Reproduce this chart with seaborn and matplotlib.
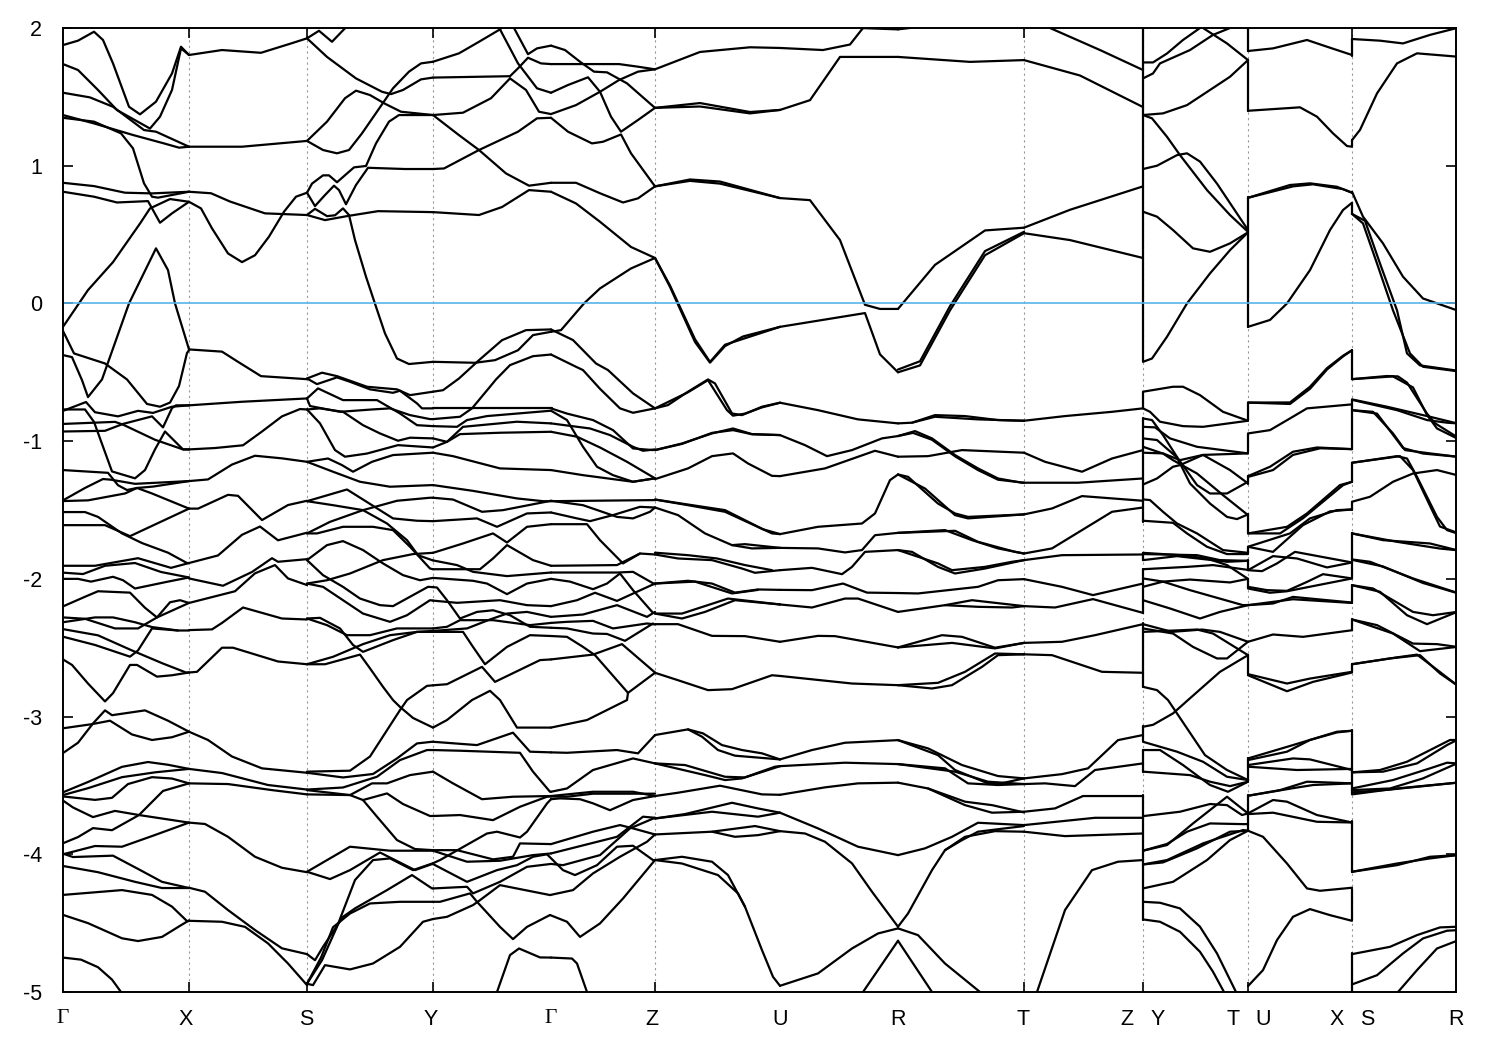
import numpy as np
import pandas as pd
import seaborn as sns
import matplotlib.pyplot as plt

# path distance of the high symmetry points, energies in eV
K_TICKS = [0, 126, 244, 370, 488, 592, 717, 835, 961, 1080, 1185, 1289, 1393]
LABEL_POS = [0, 123, 243, 368, 488, 589, 717, 835, 960, 1064, 1095, 1170, 1200, 1274, 1304, 1393]
LABELS = ['Γ', 'X', 'S', 'Y', 'Γ', 'Z', 'U', 'R', 'T', 'Z', 'Y', 'T', 'U', 'X', 'S', 'R']
Y_TICKS = [-5, -4, -3, -2, -1, 0, 1, 2]

# every band below is a flat list: k, E, k, E, ...
GAMMA_X = [
    [0,1.876,15,1.908,31,1.973,40,1.913,50,1.743,66,1.428,77,1.373,93,1.465,109,1.67,118,1.864,126,1.804],
    [0,1.738,15,1.695,35,1.55,54,1.404,87,1.27,97,1.356,109,1.55,118,1.852,126,1.804],
    [0,1.53,27,1.496,50,1.428,81,1.259,93,1.247,126,1.138],
    [0,1.368,31,1.307,70,1.223,101,1.162,116,1.131,126,1.138],
    [0,1.348,31,1.32,58,1.235,70,1.126,81,0.872,89,0.775,95,0.768,126,0.811],
    [0,0.876,31,0.852,62,0.804,89,0.799,126,0.811],
    [0,0.811,31,0.775,54,0.733,85,0.743,97,0.586,109,0.654,126,0.738],
    [0,-0.17,25,0.097,50,0.3,77,0.58,87,0.69,107,0.758,126,0.738],
    [0,-0.375,9,-0.39,19,-0.557,25,-0.68,39,-0.552,66,0.0,93,0.4,105,0.242,112,0.0,126,-0.334],
    [0,-0.2,11,-0.363,42,-0.436,64,-0.552,84,-0.73,97,-0.75,107,-0.72,116,-0.6,124,-0.36,126,-0.34],
    [0,-0.78,23,-0.716,32,-0.79,55,-0.82,75,-0.78,90,-0.795,109,-0.75,126,-0.74],
    [0,-0.77,22,-0.77,31,-0.86,45,-1.14,49,-1.22,72,-1.27,82,-1.21,92,-1.06,102,-0.93,120,-1.06,126,-1.06],
    [0,-0.875,52,-0.86,60,-0.88,92,-0.99,120,-1.06,126,-1.06],
    [0,-0.93,42,-0.925,60,-0.875,89,-0.82,100,-0.9,109,-0.76,113,-0.74,126,-0.74],
    [0,-1.21,45,-1.23,55,-1.32,64,-1.355,74,-1.34,89,-1.38,126,-1.49],
    [0,-1.43,22,-1.34,40,-1.275,48,-1.28,72,-1.31,126,-1.29],
    [0,-1.435,25,-1.43,62,-1.38,74,-1.34,90,-1.33,126,-1.29],
    [0,-1.515,22,-1.515,35,-1.55,59,-1.67,79,-1.74,105,-1.81,124,-1.885,126,-1.885],
    [0,-1.61,42,-1.61,67,-1.69,126,-1.49],
    [0,-1.905,32,-1.905,75,-1.85,108,-1.92,126,-1.885],
    [0,-1.955,20,-1.965,42,-1.905,72,-1.885,98,-1.95,126,-1.99],
    [0,-2.0,15,-2.0,28,-2.02,50,-1.985,60,-2.01,72,-2.07,105,-2.02,126,-1.99],
    [0,-2.2,22,-2.13,35,-2.09,67,-2.1,82,-2.21,94,-2.28,107,-2.17,117,-2.155,126,-2.175],
    [0,-2.28,22,-2.29,52,-2.36,75,-2.36,94,-2.28,126,-2.175],
    [0,-2.315,32,-2.28,50,-2.28,72,-2.315,89,-2.35,115,-2.375,126,-2.375],
    [0,-2.365,35,-2.41,69,-2.52,100,-2.615,123,-2.68,126,-2.68],
    [0,-2.42,32,-2.48,67,-2.565,75,-2.52,89,-2.36,115,-2.375],
    [0,-2.585,9,-2.625,25,-2.76,42,-2.89,50,-2.83,67,-2.625,74,-2.625,94,-2.71,109,-2.7,126,-2.68],
    [0,-3.265,15,-3.19,30,-3.05,42,-2.955,49,-2.99,82,-2.955,105,-3.03,126,-3.11],
    [0,-3.085,29,-3.055,47,-3.03,69,-3.13,89,-3.17,109,-3.15,126,-3.11],
    [0,-3.55,25,-3.475,59,-3.365,85,-3.33,105,-3.35,126,-3.38],
    [0,-3.57,25,-3.52,59,-3.44,92,-3.405,126,-3.38],
    [0,-3.58,32,-3.605,49,-3.59,65,-3.49,89,-3.44,109,-3.45,126,-3.485],
    [0,-3.92,15,-3.875,30,-3.81,49,-3.825,76,-3.715,100,-3.54,126,-3.485],
    [0,-3.61,10,-3.66,30,-3.73,52,-3.685,76,-3.715,126,-3.77],
    [0,-4.0,32,-3.94,59,-3.945,92,-3.86,126,-3.77],
    [0,-3.995,10,-4.02,50,-4.01,76,-4.11,99,-4.2,126,-4.245],
    [0,-4.085,35,-4.13,72,-4.2,99,-4.245,126,-4.245],
    [0,-4.295,59,-4.26,89,-4.295,109,-4.38,124,-4.485,126,-4.485],
    [0,-4.44,25,-4.5,59,-4.61,75,-4.63,99,-4.6,118,-4.515,126,-4.48],
    [0,-4.75,18,-4.765,35,-4.82,49,-4.91,59,-5.01],
]

X_S = [
    [126,1.804,159,1.84,198,1.82,229,1.89,244,1.925],
    [126,1.138,179,1.138,244,1.18],
    [126,0.811,148,0.8,167,0.74,202,0.654,244,0.642],
    [126,0.738,138,0.69,149,0.545,165,0.363,179,0.3,192,0.35,206,0.485,221,0.666,233,0.775,244,0.804],
    [126,-0.334,159,-0.35,175,-0.424,198,-0.528,244,-0.55],
    [126,-0.74,179,-0.714,244,-0.69],
    [126,-1.06,152,-1.05,180,-1.03,199,-0.93,219,-0.82,237,-0.767,244,-0.77],
    [126,-1.29,145,-1.278,169,-1.17,192,-1.106,219,-1.125,244,-1.15],
    [126,-1.49,135,-1.49,165,-1.39,175,-1.397,199,-1.573,225,-1.464,244,-1.433],
    [126,-1.885,155,-1.83,179,-1.68,197,-1.62,215,-1.72,244,-1.665],
    [126,-1.997,160,-2.05,189,-1.95,209,-1.85,215,-1.876,244,-1.857],
    [126,-2.175,172,-2.09,192,-1.96,212,-1.9,225,-1.997,244,-2.045],
    [126,-2.372,149,-2.367,159,-2.32,180,-2.208,219,-2.288,244,-2.295],
    [126,-2.68,134,-2.675,159,-2.5,170,-2.5,215,-2.6,244,-2.62],
    [126,-3.11,145,-3.17,169,-3.29,199,-3.376,244,-3.408],
    [126,-3.38,159,-3.41,205,-3.497,244,-3.53],
    [126,-3.485,165,-3.49,209,-3.534,244,-3.565],
    [126,-3.77,142,-3.78,165,-3.873,192,-4.018,219,-4.098,244,-4.13],
    [126,-4.243,142,-4.272,165,-4.405,192,-4.55,219,-4.683,244,-4.725],
    [126,-4.483,159,-4.49,182,-4.527,205,-4.647,225,-4.793,244,-4.95],
]

S_Y = [
    [244,1.925,256,1.98,269,1.9,282,1.998,285,2.05],
    [244,1.925,264,1.79,293,1.634,319,1.537,328,1.52,340,1.55,358,1.627,370,1.64],
    [244,1.18,264,1.32,282,1.49,293,1.545,307,1.513,322,1.45,338,1.392,370,1.368],
    [244,1.18,260,1.114,274,1.09,286,1.114,299,1.235,322,1.477,330,1.562,346,1.683,358,1.743,370,1.755],
    [244,0.804,249,0.87,260,0.93,266,0.93,274,0.88,291,0.988,303,0.998,313,1.162,326,1.32,336,1.368,370,1.368],
    [244,0.804,252,0.707,262,0.787,271,0.855,276,0.823,283,0.72,293,0.86,305,0.985,342,0.976,370,0.976],
    [244,0.642,252,0.687,264,0.634,272,0.64,280,0.69,286,0.642,292,0.46,303,0.194,313,-0.024,322,-0.218,334,-0.4,346,-0.44,370,-0.424],
    [244,0.642,262,0.605,284,0.634,315,0.67,370,0.663],
    [244,-0.545,259,-0.503,274,-0.528,304,-0.605,334,-0.624,347,-0.666,370,-0.641],
    [244,-0.545,254,-0.586,274,-0.537,287,-0.569,307,-0.624,330,-0.649,337,-0.634,354,-0.726,359,-0.762,370,-0.762],
    [244,-0.69,255,-0.617,280,-0.702,314,-0.702,337,-0.799,354,-0.884,370,-0.891],
    [244,-0.69,247,-0.745,277,-0.787,309,-0.77,327,-0.762,347,-0.811,367,-0.84,370,-0.84],
    [244,-0.77,257,-0.762,280,-0.787,300,-0.884,317,-0.944,335,-0.997,347,-0.975,370,-0.98],
    [244,-0.77,257,-0.871,272,-1.065,282,-1.113,304,-1.09,335,-1.029,370,-1.046],
    [244,-1.15,265,-1.126,279,-1.174,290,-1.222,309,-1.15,330,-1.101,370,-1.084],
    [244,-1.15,270,-1.222,297,-1.295,327,-1.331,370,-1.319],
    [244,-1.436,284,-1.351,309,-1.465,330,-1.561,354,-1.578,370,-1.581],
    [244,-1.436,270,-1.465,300,-1.501,324,-1.598,344,-1.719,355,-1.828,369,-1.864,370,-1.866],
    [244,-1.67,267,-1.586,300,-1.501,334,-1.433,367,-1.411,370,-1.411],
    [244,-1.67,254,-1.67,280,-1.622,310,-1.622,330,-1.646,347,-1.767,367,-1.925,370,-1.93],
    [244,-1.864,264,-1.755,280,-1.726,300,-1.791,320,-1.888,340,-1.973,357,-2.01,370,-1.993],
    [244,-1.864,260,-1.973,280,-2.058,297,-2.143,317,-2.191,330,-2.198,347,-2.13,365,-2.058,370,-2.06],
    [244,-2.034,264,-2.01,287,-1.961,320,-1.864,350,-1.82,370,-1.811],
    [244,-2.034,260,-2.058,280,-2.155,300,-2.252,327,-2.312,344,-2.264,367,-2.155,370,-2.158],
    [244,-2.288,257,-2.283,277,-2.36,290,-2.48,300,-2.53,330,-2.445,354,-2.385,370,-2.378],
    [244,-2.288,264,-2.336,284,-2.409,307,-2.409,334,-2.36,370,-2.36],
    [244,-2.62,270,-2.566,300,-2.474,327,-2.409,354,-2.385,370,-2.385],
    [244,-2.62,262,-2.62,297,-2.55,307,-2.65,320,-2.784,330,-2.88,337,-2.93,350,-3.01,370,-3.08],
    [244,-3.4,287,-3.393,307,-3.29,337,-2.953,344,-2.88,364,-2.777,370,-2.773],
    [244,-3.408,280,-3.442,310,-3.417,334,-3.304,354,-3.195,369,-3.183,370,-3.183],
    [244,-3.53,280,-3.515,314,-3.437,337,-3.316,364,-3.243,370,-3.243],
    [244,-3.565,287,-3.57,309,-3.485,324,-3.485,347,-3.425,370,-3.4],
    [244,-3.534,287,-3.57,300,-3.606,324,-3.558,340,-3.635,367,-3.722,370,-3.722],
    [300,-3.606,314,-3.727,334,-3.897,352,-3.962,370,-3.97],
    [244,-4.127,267,-4.18,287,-4.115,317,-3.987,352,-4.115,369,-4.071,370,-4.071],
    [244,-4.127,287,-3.945,327,-3.974,370,-3.974],
    [244,-4.725,252,-4.769,260,-4.672,280,-4.454,292,-4.393,324,-4.26,349,-4.151,369,-4.248,370,-4.248],
    [244,-4.94,259,-4.769,274,-4.526,292,-4.187,310,-4.042,327,-4.03,350,-4.115,370,-4.065],
    [244,-4.94,250,-4.95,262,-4.805,287,-4.836,310,-4.793,337,-4.672,360,-4.49,370,-4.47],
    [244,-4.94,258,-4.75,270,-4.53,287,-4.43,307,-4.357,337,-4.345,370,-4.345],
]

Y_GAMMA = [
    [370,1.755,396,1.816,416,1.9,437,1.99,442,2.03],
    [437,1.99,455,1.743,474,1.562,488,1.53],
    [451,2.0,465,1.81,474,1.852,488,1.872],
    [370,1.64,447,1.65,455,1.707,465,1.784,478,1.743,488,1.738],
    [447,1.634,463,1.55,476,1.392,488,1.375],
    [370,1.368,400,1.385,428,1.49,447,1.634],
    [370,1.368,396,1.222,416,1.114,443,0.944,466,0.855,488,0.876],
    [370,0.976,381,0.98,416,1.114,455,1.247,474,1.344,488,1.348],
    [370,0.663,416,0.642,439,0.7,466,0.823,488,0.811],
    [370,-0.424,412,-0.431,432,-0.412,455,-0.34,470,-0.23,488,-0.206],
    [370,-0.641,380,-0.63,396,-0.545,416,-0.412,439,-0.267,463,-0.194,488,-0.189],
    [370,-0.84,397,-0.823,409,-0.762,427,-0.605,433,-0.552,447,-0.448,470,-0.383,488,-0.371],
    [370,-0.762,414,-0.762,489,-0.762],
    [370,-0.891,394,-0.896,404,-0.847,424,-0.818,488,-0.779],
    [370,-0.98,384,-1.005,400,-0.896,454,-0.859,488,-0.871],
    [370,-1.046,384,-1.005,397,-0.949,437,-0.939,488,-0.932],
    [370,-1.084,390,-1.109,437,-1.198,488,-1.21],
    [370,-1.319,410,-1.361,454,-1.416,480,-1.436,488,-1.436],
    [370,-1.581,414,-1.561,434,-1.622,464,-1.525,488,-1.518],
    [370,-1.866,394,-1.9,410,-1.949,444,-1.98,488,-1.954],
    [370,-1.411,390,-1.424,419,-1.513,440,-1.501,488,-1.433],
    [370,-1.93,417,-1.93,430,-1.852,444,-1.755,470,-1.864,488,-1.905],
    [370,-1.993,410,-2.014,424,-2.034,444,-2.111,464,-2.034,488,-2.0],
    [370,-2.06,374,-2.063,384,-2.155,397,-2.288,414,-2.24,430,-2.228,447,-2.264,467,-2.348,488,-2.355],
    [370,-1.811,400,-1.743,430,-1.67,444,-1.736,464,-1.622,488,-1.603],
    [370,-2.158,394,-2.174,437,-2.155,464,-2.191,488,-2.198],
    [370,-2.378,404,-2.36,427,-2.295,444,-2.252,464,-2.24,488,-2.276],
    [370,-2.36,384,-2.348,397,-2.3,430,-2.3,467,-2.336,488,-2.32],
    [370,-2.385,400,-2.385,410,-2.494,422,-2.62,444,-2.494,467,-2.409,488,-2.415],
    [370,-3.08,384,-3.025,409,-2.88,427,-2.813,437,-2.88,454,-3.08,488,-3.08],
    [370,-2.773,384,-2.765,419,-2.639,432,-2.748,477,-2.59,488,-2.585],
    [370,-3.183,414,-3.207,450,-3.117,467,-3.255,488,-3.26],
    [370,-3.243,397,-3.248,457,-3.263,470,-3.4,487,-3.546,488,-3.546],
    [370,-3.4,390,-3.485,419,-3.6,450,-3.582,488,-3.577],
    [370,-3.722,397,-3.715,430,-3.752,457,-3.655,484,-3.582,488,-3.58],
    [370,-3.97,394,-3.97,430,-4.037,450,-4.018,457,-3.921,488,-3.926],
    [370,-4.071,404,-4.2,434,-4.115,454,-4.079,470,-4.018,484,-4.0],
    [370,-3.974,404,-4.054,437,-4.047,470,-4.006,488,-3.994],
    [370,-4.248,404,-4.236,410,-4.284,437,-4.2,464,-4.091,488,-4.07],
    [370,-4.065,377,-4.042,424,-3.849,434,-3.836,457,-3.878,464,-3.836,484,-3.631,488,-3.6],
    [370,-4.47,384,-4.454,410,-4.369,417,-4.333,437,-4.224,487,-4.296],
    [370,-4.345,377,-4.345,407,-4.284,414,-4.345,437,-4.527,450,-4.616,464,-4.527,487,-4.441],
    [434,-5.0,447,-4.732,456,-4.684,477,-4.749,488,-4.75],
]

GAMMA_Z = [
    [488,1.872,502,1.84,517,1.755,531,1.683,544,1.678,564,1.598,592,1.42],
    [488,1.738,556,1.738,575,1.719,592,1.7],
    [488,1.53,505,1.586,525,1.642,537,1.537,548,1.356,558,1.247,575,1.332,592,1.42],
    [488,1.375,513,1.44,537,1.537,556,1.622,575,1.683,592,1.7],
    [488,1.348,505,1.247,529,1.162,540,1.174,558,1.227,568,1.09,592,0.85],
    [488,0.876,513,0.876,537,0.8,560,0.733,575,0.763,592,0.85],
    [488,0.811,513,0.726,537,0.593,568,0.41,592,0.33],
    [488,-0.206,498,-0.194,521,0.0,537,0.109,568,0.254,592,0.33],
    [488,-0.189,510,-0.266,533,-0.436,545,-0.484,570,-0.653,592,-0.762],
    [488,-0.371,513,-0.46,520,-0.484,537,-0.62,557,-0.762,570,-0.794,592,-0.762],
    [488,-0.762,504,-0.8,530,-0.847,550,-0.92,570,-1.053,590,-1.065],
    [488,-0.779,504,-0.847,520,-1.041,534,-1.186,550,-1.247,570,-1.295,592,-1.27],
    [488,-0.871,527,-0.908,547,-0.956,570,-1.041,580,-1.07,592,-1.06],
    [488,-0.932,514,-0.968,537,-1.046,564,-1.15,592,-1.27],
    [488,-1.21,520,-1.247,570,-1.295,592,-1.27],
    [488,-1.436,592,-1.428],
    [488,-1.518,514,-1.561,527,-1.581,550,-1.537,577,-1.477,592,-1.482],
    [488,-1.954,554,-1.954,570,-1.949,592,-2.04],
    [488,-1.433,520,-1.465,554,-1.55,570,-1.561,587,-1.513,592,-1.482],
    [488,-1.905,554,-1.9,577,-1.816,592,-1.823],
    [488,-2.0,507,-2.02,530,-2.075,544,-2.034,557,-1.961,570,-2.082,590,-2.247],
    [488,-2.355,504,-2.36,530,-2.397,544,-2.4,562,-2.45,590,-2.324],
    [488,-1.603,524,-1.603,537,-1.719,560,-1.888,577,-1.816],
    [488,-2.198,514,-2.155,532,-2.101,554,-2.16,592,-2.034],
    [488,-2.276,520,-2.259,554,-2.191,584,-2.276,592,-2.24],
    [488,-2.32,504,-2.312,530,-2.305,550,-2.36,584,-2.324,592,-2.331],
    [488,-2.415,504,-2.421,520,-2.494,532,-2.554,565,-2.828,592,-2.682],
    [488,-3.08,524,-3.025,564,-2.88,565,-2.828],
    [488,-2.585,530,-2.55,559,-2.474,592,-2.68],
    [488,-3.26,504,-3.263,554,-3.243,575,-3.267,592,-3.134],
    [488,-3.546,504,-3.522,530,-3.388,570,-3.304,592,-3.34],
    [488,-3.577,530,-3.546,570,-3.546,592,-3.577],
    [488,-3.58,504,-3.582,530,-3.56,592,-3.56],
    [488,-3.926,530,-3.836,557,-3.788,570,-3.812,592,-3.856],
    [484,-4.0,500,-4.115,512,-4.151,534,-4.079,554,-3.945,570,-3.938,590,-4.042,592,-4.042],
    [488,-3.994,554,-3.873,580,-3.727,592,-3.735],
    [488,-4.07,500,-4.079,537,-4.006,567,-3.812,592,-3.735],
    [488,-3.6,497,-3.594,517,-3.6,530,-3.63,547,-3.68,570,-3.606,592,-3.577],
    [487,-4.296,510,-4.26,530,-4.139,557,-4.018,584,-3.909,592,-3.856],
    [487,-4.441,504,-4.49,517,-4.6,537,-4.502,560,-4.321,592,-4.042],
    [488,-4.75,509,-4.757,514,-4.793,524,-5.0],
]

Z_U = [
    [592,1.7,637,1.826,687,1.86,717,1.855],
    [592,1.42,637,1.455,687,1.39,717,1.405],
    [592,1.42,637,1.43,687,1.38,717,1.405],
    [592,0.85,627,0.9,657,0.885,717,0.765],
    [592,0.85,627,0.89,657,0.87,717,0.765],
    [592,0.33,607,0.13,632,-0.26,647,-0.425,662,-0.3,717,-0.17],
    [592,0.33,607,0.12,632,-0.28,647,-0.43,662,-0.31,680,-0.24,717,-0.17],
    [592,-0.762,605,-0.738,625,-0.641,645,-0.552,652,-0.581,669,-0.799,679,-0.811,699,-0.75,717,-0.721],
    [592,-0.762,625,-0.645,645,-0.557,664,-0.775,670,-0.815,682,-0.8,699,-0.755,717,-0.721],
    [592,-1.065,619,-1.017,649,-0.944,670,-0.908,689,-0.949,717,-0.956],
    [592,-1.065,619,-1.02,649,-0.94,670,-0.92,689,-0.95,717,-0.956],
    [592,-1.276,625,-1.198,649,-1.109,670,-1.089,685,-1.162,709,-1.252,717,-1.254],
    [592,-1.424,625,-1.465,662,-1.513,709,-1.67,717,-1.675],
    [592,-1.424,662,-1.501,700,-1.64,717,-1.675],
    [592,-1.482,615,-1.537,642,-1.67,669,-1.755,689,-1.779,717,-1.775],
    [669,-1.755,682,-1.748,717,-1.775],
    [592,-1.823,615,-1.852,649,-1.864,679,-1.925,692,-1.956,717,-1.937],
    [592,-1.81,625,-1.828,654,-1.852,682,-1.9,709,-1.937],
    [592,-2.034,625,-2.014,649,-2.034,672,-2.1,695,-2.077,717,-2.08],
    [592,-2.034,632,-2.02,669,-2.106,695,-2.08],
    [592,-2.252,619,-2.252,665,-2.143,717,-2.186],
    [592,-2.252,619,-2.288,642,-2.24,672,-2.155,717,-2.186],
    [592,-2.329,615,-2.329,649,-2.414,682,-2.416,717,-2.457],
    [592,-2.682,615,-2.736,645,-2.808,669,-2.801,709,-2.7,717,-2.705],
    [592,-3.134,625,-3.093,640,-3.122,659,-3.207,679,-3.243,699,-3.267,717,-3.311],
    [625,-3.093,639,-3.146,655,-3.243,672,-3.284,717,-3.311],
    [592,-3.34,642,-3.425,662,-3.461,679,-3.449,712,-3.364,717,-3.36],
    [592,-3.34,622,-3.352,662,-3.437,682,-3.442,700,-3.4,717,-3.36],
    [592,-3.577,615,-3.553,657,-3.502,699,-3.565,717,-3.568],
    [592,-3.74,622,-3.708,669,-3.626,695,-3.667,717,-3.698],
    [592,-3.74,649,-3.691,695,-3.727,717,-3.698],
    [592,-3.856,649,-3.836,672,-3.873,695,-3.861,717,-3.832],
    [649,-3.836,692,-3.795,717,-3.832],
    [592,-4.042,619,-4.018,649,-4.054,665,-4.151,682,-4.381,699,-4.696,710,-4.89,717,-4.955],
    [592,-4.042,619,-4.067,655,-4.151,675,-4.284,682,-4.381],
]

U_R = [
    [717,1.855,760,1.84,787,1.88,800,2.0],
    [797,2.0,835,1.99],
    [717,1.405,747,1.476,777,1.79,835,1.79],
    [717,0.765,747,0.75,777,0.46,802,-0.01,817,-0.04,835,-0.04],
    [717,-0.17,802,-0.07,817,-0.37,835,-0.5],
    [717,-0.721,755,-0.775,795,-0.842,835,-0.871],
    [717,-0.956,742,-1.029,764,-1.109,789,-1.065,819,-0.98,835,-0.963],
    [717,-1.254,762,-1.198,812,-1.07,835,-1.113],
    [717,-1.675,755,-1.622,799,-1.598,812,-1.525,827,-1.283,835,-1.242],
    [717,-1.775,755,-1.779,782,-1.808,799,-1.791,812,-1.683,835,-1.666],
    [717,-1.937,749,-1.92,779,-1.966,789,-1.913,802,-1.804,835,-1.791],
    [717,-2.08,749,-2.082,780,-2.034,804,-2.1,835,-2.103],
    [717,-2.186,749,-2.208,782,-2.143,795,-2.143,835,-2.24],
    [717,-2.457,755,-2.414,772,-2.416,835,-2.498],
    [717,-2.705,789,-2.76,835,-2.772],
    [717,-3.311,749,-3.243,782,-3.19,835,-3.171],
    [717,-3.36,782,-3.335,835,-3.345],
    [717,-3.568,762,-3.514,795,-3.485,835,-3.48],
    [717,-3.698,755,-3.812,795,-3.945,835,-4.006],
    [717,-3.832,742,-3.849,762,-3.909,789,-4.066,809,-4.272,835,-4.526],
    [717,-4.955,755,-4.865,789,-4.684,815,-4.575,835,-4.538],
    [800,-5.0,835,-4.628],
]

R_T = [
    [835,1.99,870,2.02],
    [835,1.79,907,1.754,961,1.767],
    [835,-0.04,872,0.28,922,0.53,961,0.55],
    [835,-0.5,857,-0.45,887,-0.05,922,0.35,961,0.51],
    [835,-0.48,857,-0.42,887,-0.02,922,0.38,961,0.52],
    [835,-0.871,849,-0.866,872,-0.811,902,-0.818,935,-0.847,961,-0.852],
    [849,-0.866,872,-0.823,915,-0.842,961,-0.852],
    [835,-0.963,852,-0.927,869,-0.98,892,-1.101,915,-1.198,935,-1.271,959,-1.302,961,-1.302],
    [835,-0.963,850,-0.94,869,-0.99,892,-1.11,915,-1.21,935,-1.28,961,-1.302],
    [835,-1.113,865,-1.109,899,-1.065,961,-1.084],
    [835,-1.242,862,-1.344,892,-1.537,905,-1.561,961,-1.532],
    [835,-1.242,845,-1.259,875,-1.453,892,-1.525,905,-1.55,961,-1.532],
    [835,-1.666,882,-1.646,909,-1.719,935,-1.779,961,-1.816],
    [835,-1.666,892,-1.651,915,-1.731,952,-1.804,961,-1.816],
    [835,-1.791,849,-1.804,875,-1.913,892,-1.961,922,-1.925,961,-1.864],
    [835,-1.791,875,-1.888,889,-1.937,922,-1.913,949,-1.876,961,-1.864],
    [835,-2.103,855,-2.106,915,-2.058,935,-2.01,961,-2.002],
    [835,-2.24,882,-2.191,909,-2.155,961,-2.198],
    [882,-2.191,915,-2.203,949,-2.208,961,-2.198],
    [835,-2.498,879,-2.409,899,-2.421,932,-2.5,961,-2.465],
    [835,-2.498,889,-2.465,932,-2.505,961,-2.465],
    [835,-2.772,875,-2.755,902,-2.675,932,-2.542,961,-2.548],
    [835,-2.772,869,-2.796,889,-2.772,919,-2.639,935,-2.554,961,-2.548],
    [835,-3.171,865,-3.231,899,-3.352,935,-3.432,961,-3.449],
    [835,-3.171,875,-3.28,892,-3.388,925,-3.485,935,-3.49,961,-3.449],
    [835,-3.345,882,-3.376,905,-3.485,935,-3.497,961,-3.49],
    [835,-3.345,892,-3.4,925,-3.473,961,-3.49],
    [835,-3.48,865,-3.522,902,-3.643,929,-3.698,961,-3.691],
    [865,-3.522,902,-3.618,929,-3.643,961,-3.696],
    [835,-4.006,862,-3.957,889,-3.873,915,-3.771,961,-3.788],
    [835,-4.526,845,-4.43,869,-4.115,882,-3.97,902,-3.873,932,-3.832,961,-3.836],
    [882,-3.97,899,-3.897,915,-3.836,961,-3.795],
    [835,-4.538,855,-4.587,882,-4.793,917,-5.0],
    [835,-4.628,869,-5.0],
]

T_Z = [
    [987,2.0,1037,1.84,1080,1.695],
    [961,1.767,1017,1.655,1080,1.426],
    [961,0.55,1007,0.68,1080,0.85],
    [961,0.51,1007,0.46,1080,0.33],
    [961,-0.852,1002,-0.818,1049,-0.787,1080,-0.762],
    [961,-1.302,1015,-1.302,1080,-1.271],
    [961,-1.084,982,-1.15,1019,-1.222,1049,-1.126,1080,-1.065],
    [961,-1.532,989,-1.489,1019,-1.399,1080,-1.433],
    [961,-1.816,989,-1.779,1019,-1.646,1049,-1.513,1080,-1.482],
    [961,-1.864,999,-1.828,1080,-1.823],
    [961,-2.002,999,-2.058,1030,-2.118,1080,-2.034],
    [961,-2.198,992,-2.208,1030,-2.147,1080,-2.247],
    [961,-2.465,999,-2.457,1032,-2.409,1080,-2.329],
    [961,-2.548,989,-2.554,1039,-2.675,1080,-2.682],
    [961,-3.449,999,-3.418,1025,-3.376,1055,-3.171,1080,-3.134],
    [961,-3.49,982,-3.485,1012,-3.505,1032,-3.388,1080,-3.34],
    [961,-3.691,992,-3.667,1020,-3.577,1080,-3.577],
    [961,-3.788,1032,-3.735,1080,-3.735],
    [961,-3.836,1002,-3.868,1080,-3.849],
    [974,-5.0,1002,-4.405,1029,-4.115,1055,-4.054,1080,-4.042],
]

Y_T = [
    [1080,1.75,1090,1.75,1104,1.815,1120,1.913,1137,2.0],
    [1080,1.634,1090,1.67,1097,1.743,1127,1.84,1150,1.95,1167,2.0],
    [1140,2.0,1164,1.888,1185,1.767],
    [1080,1.368,1100,1.38,1124,1.44,1147,1.55,1167,1.646,1185,1.767],
    [1080,1.368,1089,1.344,1104,1.21,1117,1.077,1144,0.823,1167,0.642,1185,0.52],
    [1080,0.976,1094,1.0,1114,1.077,1124,1.09,1137,1.03,1154,0.87,1185,0.533],
    [1080,0.666,1094,0.63,1110,0.533,1130,0.4,1147,0.375,1167,0.436,1185,0.516],
    [1080,-0.424,1089,-0.4,1104,-0.242,1124,0.0,1147,0.218,1167,0.387,1185,0.516],
    [1080,-0.641,1110,-0.605,1120,-0.605,1137,-0.666,1160,-0.787,1185,-0.852],
    [1080,-0.762,1087,-0.787,1097,-0.859,1120,-0.891,1140,-0.896,1185,-0.852],
    [1080,-0.835,1089,-0.847,1100,-0.956,1115,-1.126,1134,-1.319,1147,-1.38,1164,-1.38,1185,-1.295],
    [1080,-0.896,1092,-0.9,1107,-0.98,1134,-1.041,1185,-1.089],
    [1080,-0.98,1094,-0.992,1114,-1.118,1127,-1.307,1147,-1.453,1164,-1.55,1174,-1.566,1185,-1.532],
    [1080,-1.084,1100,-1.089,1117,-1.138,1140,-1.1,1185,-1.089],
    [1080,-1.041,1100,-1.09,1110,-1.138,1134,-1.235,1160,-1.392,1185,-1.537],
    [1080,-1.315,1094,-1.271,1110,-1.186,1117,-1.174,1140,-1.1,1167,-1.21,1185,-1.307],
    [1080,-1.423,1087,-1.428,1100,-1.513,1114,-1.598,1134,-1.67,1160,-1.791,1185,-1.811],
    [1080,-1.578,1110,-1.593,1124,-1.67,1144,-1.767,1164,-1.82,1185,-1.82],
    [1080,-1.811,1117,-1.828,1144,-1.852,1164,-1.9,1185,-2.0],
    [1080,-1.82,1134,-1.828,1157,-1.864,1185,-1.869],
    [1080,-1.864,1114,-1.835,1164,-1.876,1185,-1.869],
    [1080,-1.93,1124,-1.913,1150,-1.9,1185,-1.935],
    [1080,-1.997,1100,-2.02,1127,-2.082,1180,-2.191,1185,-2.19],
    [1080,-2.058,1100,-2.02,1127,-2.005,1167,-2.026,1185,-2.0],
    [1080,-2.155,1107,-2.215,1137,-2.288,1157,-2.24,1185,-2.191],
    [1080,-2.329,1109,-2.385,1139,-2.368,1157,-2.385,1185,-2.457],
    [1080,-2.36,1110,-2.397,1130,-2.494,1154,-2.578,1164,-2.578,1185,-2.457],
    [1080,-2.385,1134,-2.368,1150,-2.397,1185,-2.554],
    [1080,-2.784,1094,-2.808,1105,-2.88,1142,-3.28,1164,-3.388,1185,-3.461],
    [1080,-3.074,1090,-3.06,1110,-2.977,1125,-2.88,1157,-2.675,1185,-2.554],
    [1080,-3.183,1114,-3.255,1140,-3.328,1164,-3.437,1185,-3.461],
    [1080,-3.243,1097,-3.243,1120,-3.352,1147,-3.497,1165,-3.546,1185,-3.473],
    [1080,-3.4,1127,-3.425,1147,-3.473,1167,-3.505,1185,-3.473],
    [1080,-3.723,1117,-3.691,1147,-3.635,1164,-3.643,1179,-3.715,1185,-3.703],
    [1080,-3.974,1104,-3.933,1130,-3.776,1164,-3.582,1185,-3.703],
    [1080,-3.974,1104,-3.925,1124,-3.836,1147,-3.776,1180,-3.781,1185,-3.781],
    [1080,-4.074,1100,-4.059,1134,-3.957,1167,-3.836,1185,-3.829],
    [1080,-4.074,1104,-4.042,1140,-3.921,1180,-3.824,1185,-3.829],
    [1080,-4.248,1110,-4.2,1144,-4.042,1167,-3.897,1185,-3.829],
    [1080,-4.345,1097,-4.352,1117,-4.393,1137,-4.526,1154,-4.72,1173,-5.0],
    [1080,-4.473,1097,-4.49,1117,-4.563,1137,-4.708,1150,-4.853,1161,-5.0],
]

U_X = [
    [1185,1.833,1210,1.852,1244,1.913,1264,1.864,1289,1.804],
    [1185,1.399,1237,1.424,1254,1.356,1270,1.235,1284,1.143,1289,1.138],
    [1185,0.767,1227,0.86,1247,0.872,1274,0.847,1289,0.804],
    [1185,0.767,1230,0.85,1250,0.865,1280,0.83,1289,0.804],
    [1185,-0.17,1207,-0.12,1224,0.0,1247,0.242,1267,0.533,1280,0.678,1289,0.731],
    [1185,-0.72,1227,-0.719,1247,-0.605,1264,-0.47,1280,-0.38,1289,-0.34],
    [1185,-0.72,1227,-0.73,1247,-0.62,1264,-0.48,1280,-0.385,1289,-0.34],
    [1185,-0.944,1207,-0.92,1227,-0.835,1244,-0.762,1289,-0.733],
    [1185,-1.254,1207,-1.186,1230,-1.077,1254,-1.046,1289,-1.058],
    [1185,-1.26,1210,-1.21,1230,-1.1,1257,-1.052,1289,-1.058],
    [1185,-1.67,1224,-1.622,1244,-1.525,1277,-1.319,1289,-1.295],
    [1185,-1.67,1217,-1.67,1240,-1.56,1280,-1.32,1289,-1.295],
    [1185,-1.767,1227,-1.67,1247,-1.561,1274,-1.501,1289,-1.496],
    [1185,-1.767,1210,-1.804,1240,-1.61,1267,-1.51,1289,-1.496],
    [1185,-1.937,1210,-1.835,1234,-1.852,1264,-1.917,1289,-1.881],
    [1185,-1.937,1199,-1.944,1214,-1.888,1232,-1.804,1289,-1.881],
    [1185,-2.058,1204,-2.082,1224,-2.087,1244,-2.022,1260,-1.966,1289,-1.997],
    [1185,-2.07,1207,-2.101,1224,-2.09,1289,-1.997],
    [1185,-2.191,1210,-2.179,1230,-2.131,1289,-2.172],
    [1185,-2.191,1230,-2.148,1289,-2.175],
    [1185,-2.457,1210,-2.404,1240,-2.421,1289,-2.373],
    [1185,-2.692,1224,-2.76,1247,-2.724,1289,-2.675],
    [1185,-2.7,1224,-2.816,1250,-2.748,1289,-2.68],
    [1185,-3.304,1230,-3.207,1274,-3.11,1289,-3.103],
    [1185,-3.316,1224,-3.255,1247,-3.17,1274,-3.115,1289,-3.103],
    [1185,-3.352,1230,-3.304,1247,-3.311,1289,-3.388],
    [1185,-3.364,1234,-3.388,1289,-3.38],
    [1185,-3.575,1217,-3.534,1244,-3.473,1289,-3.485],
    [1185,-3.575,1230,-3.52,1250,-3.497,1289,-3.485],
    [1185,-3.703,1210,-3.606,1224,-3.618,1254,-3.715,1289,-3.769],
    [1185,-3.708,1210,-3.698,1254,-3.764,1289,-3.769],
    [1185,-3.829,1200,-3.873,1224,-4.067,1244,-4.248,1257,-4.265,1289,-4.243],
    [1185,-4.957,1200,-4.841,1214,-4.623,1230,-4.454,1247,-4.398,1267,-4.442,1289,-4.483],
]

S_R = [
    [1289,1.92,1317,1.908,1340,1.888,1367,1.95,1394,2.0],
    [1289,1.186,1297,1.26,1314,1.525,1334,1.743,1354,1.816,1394,1.792],
    [1289,0.811,1300,0.63,1320,0.436,1340,0.194,1360,0.036,1394,-0.05],
    [1289,0.65,1300,0.581,1314,0.29,1330,-0.05,1347,-0.363,1360,-0.46,1394,-0.492],
    [1289,0.65,1302,0.6,1317,0.29,1334,-0.05,1344,-0.363,1357,-0.45,1394,-0.488],
    [1289,-0.55,1324,-0.527,1335,-0.53,1344,-0.575,1364,-0.8,1372,-0.87,1394,-0.97],
    [1289,-0.55,1330,-0.53,1350,-0.61,1364,-0.81,1374,-0.908,1394,-0.98],
    [1289,-0.697,1324,-0.75,1367,-0.823,1394,-0.871],
    [1289,-0.7,1334,-0.775,1364,-0.847,1384,-0.866,1394,-0.871],
    [1289,-0.775,1310,-0.787,1330,-0.944,1342,-1.065,1367,-1.089,1394,-1.113],
    [1289,-0.775,1314,-0.8,1340,-1.05,1360,-1.09,1394,-1.113],
    [1289,-1.157,1334,-1.109,1344,-1.126,1354,-1.259,1374,-1.55,1384,-1.646,1394,-1.67],
    [1289,-1.157,1337,-1.109,1350,-1.21,1369,-1.5,1377,-1.62,1394,-1.665],
    [1289,-1.44,1307,-1.404,1330,-1.295,1350,-1.235,1374,-1.21,1394,-1.247],
    [1289,-1.67,1320,-1.719,1367,-1.743,1394,-1.792],
    [1289,-1.67,1334,-1.731,1377,-1.78,1394,-1.792],
    [1289,-1.859,1307,-1.876,1350,-1.997,1394,-2.101],
    [1289,-1.862,1320,-1.91,1360,-2.03,1394,-2.103],
    [1289,-2.046,1310,-2.07,1350,-2.24,1370,-2.264,1394,-2.24],
    [1289,-2.046,1317,-2.094,1344,-2.264,1364,-2.329,1394,-2.24],
    [1289,-2.295,1314,-2.336,1350,-2.47,1374,-2.474,1394,-2.494],
    [1289,-2.295,1330,-2.397,1357,-2.525,1394,-2.494],
    [1289,-2.62,1327,-2.578,1357,-2.554,1377,-2.687,1394,-2.772],
    [1289,-2.62,1334,-2.57,1354,-2.55,1374,-2.66,1394,-2.772],
    [1289,-3.405,1317,-3.388,1344,-3.328,1387,-3.17,1394,-3.17],
    [1289,-3.405,1320,-3.4,1354,-3.34,1384,-3.207,1394,-3.17],
    [1289,-3.522,1330,-3.461,1367,-3.376,1384,-3.335,1394,-3.34],
    [1289,-3.534,1327,-3.522,1360,-3.449,1394,-3.34],
    [1289,-3.565,1334,-3.522,1394,-3.48],
    [1289,-3.55,1327,-3.53,1394,-3.48],
    [1289,-4.127,1334,-4.079,1367,-4.018,1394,-4.006],
    [1289,-4.127,1334,-4.067,1367,-4.03,1394,-4.006],
    [1289,-4.725,1327,-4.672,1354,-4.587,1377,-4.531,1394,-4.526],
    [1289,-4.945,1314,-4.878,1340,-4.72,1360,-4.611,1384,-4.555,1394,-4.551],
    [1335,-5.0,1354,-4.841,1374,-4.684,1394,-4.628],
]

# vertical joins at the path breaks: k, E low, E high
JUMPS = [
    [1080,-0.42,2.0], [1080,-0.76,-0.64], [1080,-1.585,-0.835], [1080,-1.865,-1.81],
    [1080,-2.25,-1.925], [1080,-2.785,-2.32], [1080,-3.18,-3.07], [1080,-3.4,-3.24], [1080,-4.48,-3.57],
    [1185,1.83,2.0], [1185,1.40,1.77], [1185,-0.17,0.77], [1185,-0.85,-0.72], [1185,-1.08,-0.95],
    [1185,-1.31,-1.25], [1185,-1.67,-1.53], [1185,-1.81,-1.77], [1185,-1.935,-1.865], [1185,-2.07,-2.0],
    [1185,-2.69,-2.55], [1185,-3.47,-3.30], [1185,-3.83,-3.57],
    [1289,1.80,1.92], [1289,1.14,1.19], [1289,0.65,0.73], [1289,-0.55,-0.34], [1289,-1.06,-0.70],
    [1289,-1.295,-1.157], [1289,-1.50,-1.44], [1289,-1.86,-1.67], [1289,-1.997,-1.88], [1289,-2.17,-2.046],
    [1289,-2.37,-2.295], [1289,-2.675,-2.62], [1289,-3.565,-3.10], [1289,-4.13,-3.76], [1289,-4.48,-4.25],
    [1289,-5.0,-4.72],
]

ALL_PANELS = [GAMMA_X, X_S, S_Y, Y_GAMMA, GAMMA_Z, Z_U, U_R, R_T, T_Z, Y_T, U_X, S_R]

rows = []
band = 0
for panel in ALL_PANELS:
    for line in panel:
        pts = np.array(line).reshape(-1, 2)
        for k, e in pts:
            rows.append((band, k, e))
        band += 1
for k, lo, hi in JUMPS:
    rows.append((band, k, lo))
    rows.append((band, k, hi))
    band += 1
df = pd.DataFrame(rows, columns=['band', 'k', 'energy'])

sns.set_style('white')
plt.rcParams['font.family'] = ['Liberation Sans', 'DejaVu Sans']

fig = plt.figure(figsize=(15, 10.5), dpi=100)
ax = fig.add_axes([63 / 1500, 1 - 992 / 1050, 1393 / 1500, 964 / 1050])

sns.lineplot(data=df, x='k', y='energy', units='band', estimator=None, sort=False,
             color='black', linewidth=1.6, legend=False, ax=ax, zorder=3)
ax.axhline(0, color='#56B4E9', linewidth=1.2, zorder=4)

ax.set_xlim(0, 1393)
ax.set_ylim(-5, 2)
ax.set_xlabel('')
ax.set_ylabel('')

ax.set_xticks(K_TICKS[1:-1], minor=True)
ax.set_xticks(LABEL_POS, LABELS)
ax.set_yticks(Y_TICKS, [str(t) for t in Y_TICKS])
ax.grid(False)
ax.grid(axis='x', which='minor', color='#9a9a9a', linestyle=(0, (2, 3)), linewidth=0.8, zorder=1)
ax.tick_params(axis='x', which='major', length=0, pad=12, labelsize=15.5, colors='black')
ax.tick_params(axis='x', which='minor', direction='in', length=7, width=1.2, top=True, bottom=True, color='black')
ax.tick_params(axis='y', direction='in', length=7, width=1.2, left=True, right=True, pad=15, labelsize=15.5, colors='black')
for lab in ax.get_xticklabels():
    if lab.get_text() == 'Γ':
        lab.set_family('Liberation Serif')

for side in ax.spines.values():
    side.set_color('black')
    side.set_linewidth(1.4)
    side.set_zorder(5)

fig.savefig('out.png', dpi=100, facecolor='white')
